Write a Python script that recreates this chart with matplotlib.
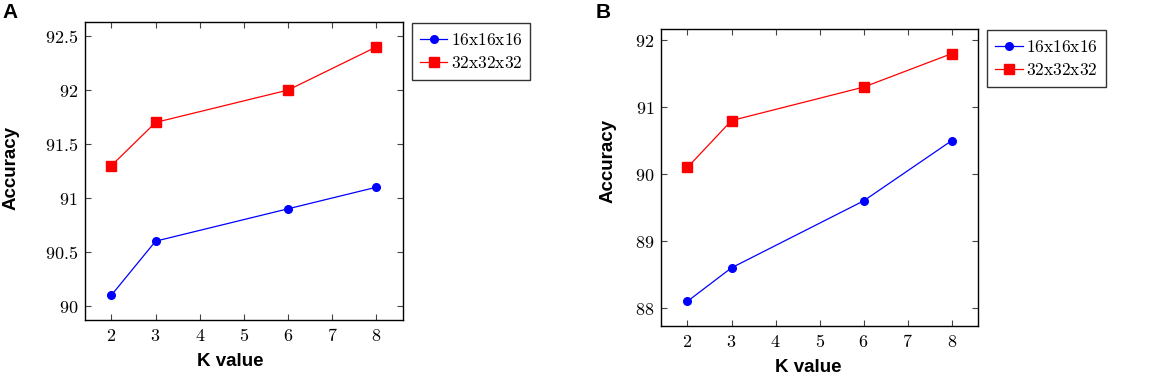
import numpy as np
from matplotlib import pyplot as plt

plt.rcParams['mathtext.fontset'] = 'cm'

k_values = [2, 3, 6, 8]
x_ticks = [2, 3, 4, 5, 6, 7, 8]

# panel A
a_16 = [90.1, 90.6, 90.9, 91.1]
a_32 = [91.3, 91.7, 92.0, 92.4]
a_yticks = [90, 90.5, 91, 91.5, 92, 92.5]
a_ylabels = ['90', '90.5', '91', '91.5', '92', '92.5']

# panel B
b_16 = [88.1, 88.6, 89.6, 90.5]
b_32 = [90.1, 90.8, 91.3, 91.8]
b_yticks = [88, 89, 90, 91, 92]
b_ylabels = ['88', '89', '90', '91', '92']

series_names = ['16x16x16', '32x32x32']

fig = plt.figure(figsize=(11.7, 3.8), dpi=100)
axA = fig.add_axes([0.0726, 0.158, 0.2718, 0.784])
axB = fig.add_axes([0.565, 0.142, 0.271, 0.782])


def draw(ax, s16, s32, yt, yl):
    ax.plot(k_values, s16, color='blue', marker='o', markersize=5.5, lw=0.9,
            label=r'$\mathrm{' + series_names[0] + '}$')
    ax.plot(k_values, s32, color='red', marker='s', markersize=6.5, lw=0.9,
            label=r'$\mathrm{' + series_names[1] + '}$')
    # pgfplots style 10% enlargement
    lo = min(min(s16), min(s32))
    hi = max(max(s16), max(s32))
    pad = (hi - lo) * 0.1
    ax.set_ylim(lo - pad, hi + pad)
    ax.set_xlim(1.4, 8.6)
    ax.set_xticks(x_ticks)
    ax.set_xticklabels(['$' + str(t) + '$' for t in x_ticks], fontsize=13)
    ax.set_yticks(yt)
    ax.set_yticklabels(['$' + s + '$' for s in yl], fontsize=13)
    ax.tick_params(direction='in', top=True, right=True, length=4, width=0.8,
                   colors='#444444', labelcolor='black', pad=5)
    for sp in ax.spines.values():
        sp.set_linewidth(1.0)
    leg = ax.legend(loc='upper left', bbox_to_anchor=(1.028, 0.997),
                    fancybox=False, edgecolor='black', fontsize=12.5,
                    handlelength=1.6, borderpad=0.45, labelspacing=0.3,
                    handletextpad=0.2, borderaxespad=0)
    leg.get_frame().set_linewidth(1.0)


draw(axA, a_16, a_32, a_yticks, a_ylabels)
draw(axB, b_16, b_32, b_yticks, b_ylabels)

lab = dict(family='Liberation Sans', weight='bold', fontsize=13.5)
fig.text(230 / 1170, 1 - 362 / 380, 'K value', ha='center', va='center', **lab)
fig.text(11 / 1170, 1 - 168 / 380, 'Accuracy', ha='center', va='center', rotation=90, **lab)
fig.text(808 / 1170, 1 - 368 / 380, 'K value', ha='center', va='center', **lab)
fig.text(608 / 1170, 1 - 161 / 380, 'Accuracy', ha='center', va='center', rotation=90, **lab)
fig.text(10 / 1170, 1 - 12 / 380, 'A', ha='center', va='center',
         family='Liberation Sans', weight='bold', fontsize=15)
fig.text(603 / 1170, 1 - 12 / 380, 'B', ha='center', va='center',
         family='Liberation Sans', weight='bold', fontsize=15)

plt.savefig('out.png', dpi=100)
